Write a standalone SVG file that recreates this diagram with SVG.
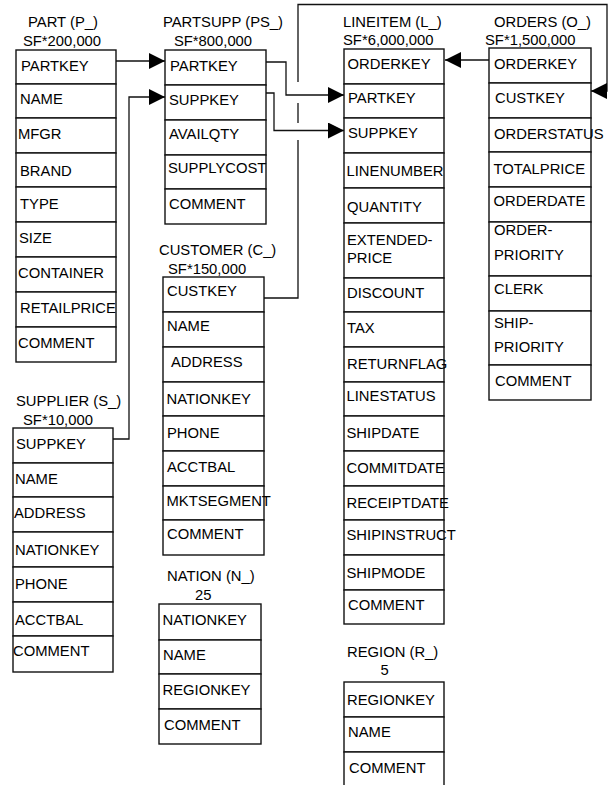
<svg xmlns="http://www.w3.org/2000/svg" width="608" height="785" viewBox="0 0 608 785">
<style>
text{font-family:"Liberation Sans",Arial,sans-serif;font-size:14.8px;fill:#000}
.r{fill:#fff;stroke:#111;stroke-width:1.4}
.c{fill:none;stroke:#111;stroke-width:1.3}
.t{text-anchor:middle}
</style>
<defs>
<marker id="ah" markerUnits="userSpaceOnUse" markerWidth="16" markerHeight="16" refX="16" refY="8" orient="auto">
<path d="M0,0 L16,8 L0,16 z" fill="#000"/>
</marker>
</defs>
<rect width="608" height="785" fill="#fff"/>

<g id="connectors">
<polyline class="c" points="116,61 165,61" marker-end="url(#ah)"/>
<polyline class="c" points="113,439 129,439 129,97 165,97" marker-end="url(#ah)"/>
<polyline class="c" points="266,62 286,62 286,95 344,95" marker-end="url(#ah)"/>
<polyline class="c" points="266,93 274,93 274,130.5 344,130.5" marker-end="url(#ah)"/>
<polyline class="c" points="489,60 445,60" marker-end="url(#ah)"/>
<polyline class="c" points="264,298 298,298 298,140"/>
<line class="c" x1="298" y1="123" x2="298" y2="103"/>
<polyline class="c" points="298,82 298,4.5 607,4.5 607,91 591,91" marker-end="url(#ah)"/>
</g>

<g id="part">
<text class="t" x="63" y="26.5">PART (P_)</text>
<text class="t" x="62" y="46">SF*200,000</text>
<rect class="r" x="16" y="50" width="100" height="34"/>
<rect class="r" x="16" y="84" width="100" height="34"/>
<rect class="r" x="16" y="118" width="100" height="35"/>
<rect class="r" x="16" y="153" width="100" height="34"/>
<rect class="r" x="16" y="187" width="100" height="35"/>
<rect class="r" x="16" y="222" width="100" height="35"/>
<rect class="r" x="16" y="257" width="100" height="35"/>
<rect class="r" x="16" y="292" width="100" height="35"/>
<rect class="r" x="16" y="327" width="100" height="35"/>
<text x="21" y="70.5">PARTKEY</text>
<text x="20" y="103.5">NAME</text>
<text x="18" y="138.5">MFGR</text>
<text x="20" y="176">BRAND</text>
<text x="20" y="209">TYPE</text>
<text x="19" y="242.5">SIZE</text>
<text x="18" y="277.5">CONTAINER</text>
<text x="20" y="312.5">RETAILPRICE</text>
<text x="18" y="347.5">COMMENT</text>
</g>

<g id="partsupp">
<text class="t" x="223" y="27">PARTSUPP (PS_)</text>
<text class="t" x="213" y="46">SF*800,000</text>
<rect class="r" x="165" y="50" width="101" height="35"/>
<rect class="r" x="165" y="85" width="101" height="35"/>
<rect class="r" x="165" y="120" width="101" height="35"/>
<rect class="r" x="165" y="155" width="101" height="34"/>
<rect class="r" x="165" y="189" width="101" height="35"/>
<text x="170" y="70.5">PARTKEY</text>
<text x="169" y="105">SUPPKEY</text>
<text x="169" y="138.5">AVAILQTY</text>
<text x="168" y="173">SUPPLYCOST</text>
<text x="169" y="209">COMMENT</text>
</g>

<g id="lineitem">
<text x="343" y="27">LINEITEM (L_)</text>
<text x="343" y="45">SF*6,000,000</text>
<rect class="r" x="344" y="49" width="100" height="35"/>
<rect class="r" x="344" y="84" width="100" height="34"/>
<rect class="r" x="344" y="118" width="100" height="35"/>
<rect class="r" x="344" y="153" width="100" height="35"/>
<rect class="r" x="344" y="188" width="100" height="35"/>
<rect class="r" x="344" y="223" width="100" height="55"/>
<rect class="r" x="344" y="278" width="100" height="34"/>
<rect class="r" x="344" y="312" width="100" height="35"/>
<rect class="r" x="344" y="347" width="100" height="35"/>
<rect class="r" x="344" y="382" width="100" height="34"/>
<rect class="r" x="344" y="416" width="100" height="35"/>
<rect class="r" x="344" y="451" width="100" height="35"/>
<rect class="r" x="344" y="486" width="100" height="34"/>
<rect class="r" x="344" y="520" width="100" height="35"/>
<rect class="r" x="344" y="555" width="100" height="35"/>
<rect class="r" x="344" y="590" width="100" height="34"/>
<text x="347.5" y="68.5">ORDERKEY</text>
<text x="348" y="102.5">PARTKEY</text>
<text x="348" y="137.5">SUPPKEY</text>
<text x="346.5" y="176">LINENUMBER</text>
<text x="347" y="211.5">QUANTITY</text>
<text x="347" y="244.5">EXTENDED-</text>
<text x="347" y="262.5">PRICE</text>
<text x="347" y="297.5">DISCOUNT</text>
<text x="347" y="332.5">TAX</text>
<text x="347" y="368.5">RETURNFLAG</text>
<text x="346.5" y="401">LINESTATUS</text>
<text x="346.5" y="437.5">SHIPDATE</text>
<text x="346.5" y="472.5">COMMITDATE</text>
<text x="346.5" y="507.5">RECEIPTDATE</text>
<text x="346.5" y="540">SHIPINSTRUCT</text>
<text x="346.5" y="577.5">SHIPMODE</text>
<text x="348" y="610">COMMENT</text>
</g>

<g id="orders">
<text x="494" y="26.5">ORDERS (O_)</text>
<text x="485" y="44.5">SF*1,500,000</text>
<rect class="r" x="489" y="48" width="102" height="35"/>
<rect class="r" x="489" y="83" width="102" height="35"/>
<rect class="r" x="489" y="118" width="102" height="34"/>
<rect class="r" x="489" y="152" width="102" height="35"/>
<rect class="r" x="489" y="187" width="102" height="35"/>
<rect class="r" x="489" y="222" width="102" height="54"/>
<rect class="r" x="489" y="276" width="102" height="35"/>
<rect class="r" x="489" y="311" width="102" height="54"/>
<rect class="r" x="489" y="365" width="102" height="35"/>
<text x="494" y="68.5">ORDERKEY</text>
<text x="495" y="102.5">CUSTKEY</text>
<text x="494" y="138.5">ORDERSTATUS</text>
<text x="493.5" y="174">TOTALPRICE</text>
<text x="493.5" y="206">ORDERDATE</text>
<text x="494" y="235">ORDER-</text>
<text x="494" y="260">PRIORITY</text>
<text x="494" y="293.5">CLERK</text>
<text x="494" y="327.5">SHIP-</text>
<text x="494" y="351.5">PRIORITY</text>
<text x="495" y="386">COMMENT</text>
</g>

<g id="customer">
<text x="159" y="254.5">CUSTOMER (C_)</text>
<text x="168" y="274">SF*150,000</text>
<rect class="r" x="163" y="277" width="101" height="35"/>
<rect class="r" x="163" y="312" width="101" height="35"/>
<rect class="r" x="163" y="347" width="101" height="35"/>
<rect class="r" x="163" y="382" width="101" height="34"/>
<rect class="r" x="163" y="416" width="101" height="35"/>
<rect class="r" x="163" y="451" width="101" height="35"/>
<rect class="r" x="163" y="486" width="101" height="34"/>
<rect class="r" x="163" y="520" width="101" height="35"/>
<text x="167" y="295.5">CUSTKEY</text>
<text x="167" y="330.5">NAME</text>
<text x="171" y="366.5">ADDRESS</text>
<text x="166.5" y="404">NATIONKEY</text>
<text x="167" y="437.5">PHONE</text>
<text x="167" y="472">ACCTBAL</text>
<text x="166.5" y="506">MKTSEGMENT</text>
<text x="167" y="538.5">COMMENT</text>
</g>

<g id="supplier">
<text x="16" y="405.5">SUPPLIER (S_)</text>
<text x="23" y="425">SF*10,000</text>
<rect class="r" x="13" y="428" width="100" height="35"/>
<rect class="r" x="13" y="463" width="100" height="34"/>
<rect class="r" x="13" y="497" width="100" height="35"/>
<rect class="r" x="13" y="532" width="100" height="35"/>
<rect class="r" x="13" y="567" width="100" height="35"/>
<rect class="r" x="13" y="602" width="100" height="34"/>
<rect class="r" x="13" y="636" width="100" height="36"/>
<text x="16" y="448.5">SUPPKEY</text>
<text x="15" y="484">NAME</text>
<text x="14" y="517.5">ADDRESS</text>
<text x="15" y="555">NATIONKEY</text>
<text x="15" y="588.5">PHONE</text>
<text x="15" y="624.5">ACCTBAL</text>
<text x="13" y="656">COMMENT</text>
</g>

<g id="nation">
<text x="167" y="580.5">NATION (N_)</text>
<text x="195" y="599.5">25</text>
<rect class="r" x="159" y="604" width="102" height="36"/>
<rect class="r" x="159" y="640" width="102" height="34"/>
<rect class="r" x="159" y="674" width="102" height="35"/>
<rect class="r" x="159" y="709" width="102" height="35"/>
<text x="162.5" y="625">NATIONKEY</text>
<text x="163" y="660">NAME</text>
<text x="162.5" y="694.5">REGIONKEY</text>
<text x="164" y="729.5">COMMENT</text>
</g>

<g id="region">
<text x="347" y="656.5">REGION (R_)</text>
<text x="380.5" y="674.5">5</text>
<rect class="r" x="344" y="682" width="100" height="35"/>
<rect class="r" x="344" y="717" width="100" height="35"/>
<rect class="r" x="344" y="752" width="100" height="40"/>
<text x="347" y="704.5">REGIONKEY</text>
<text x="348" y="737">NAME</text>
<text x="349" y="772.5">COMMENT</text>
</g>
</svg>
